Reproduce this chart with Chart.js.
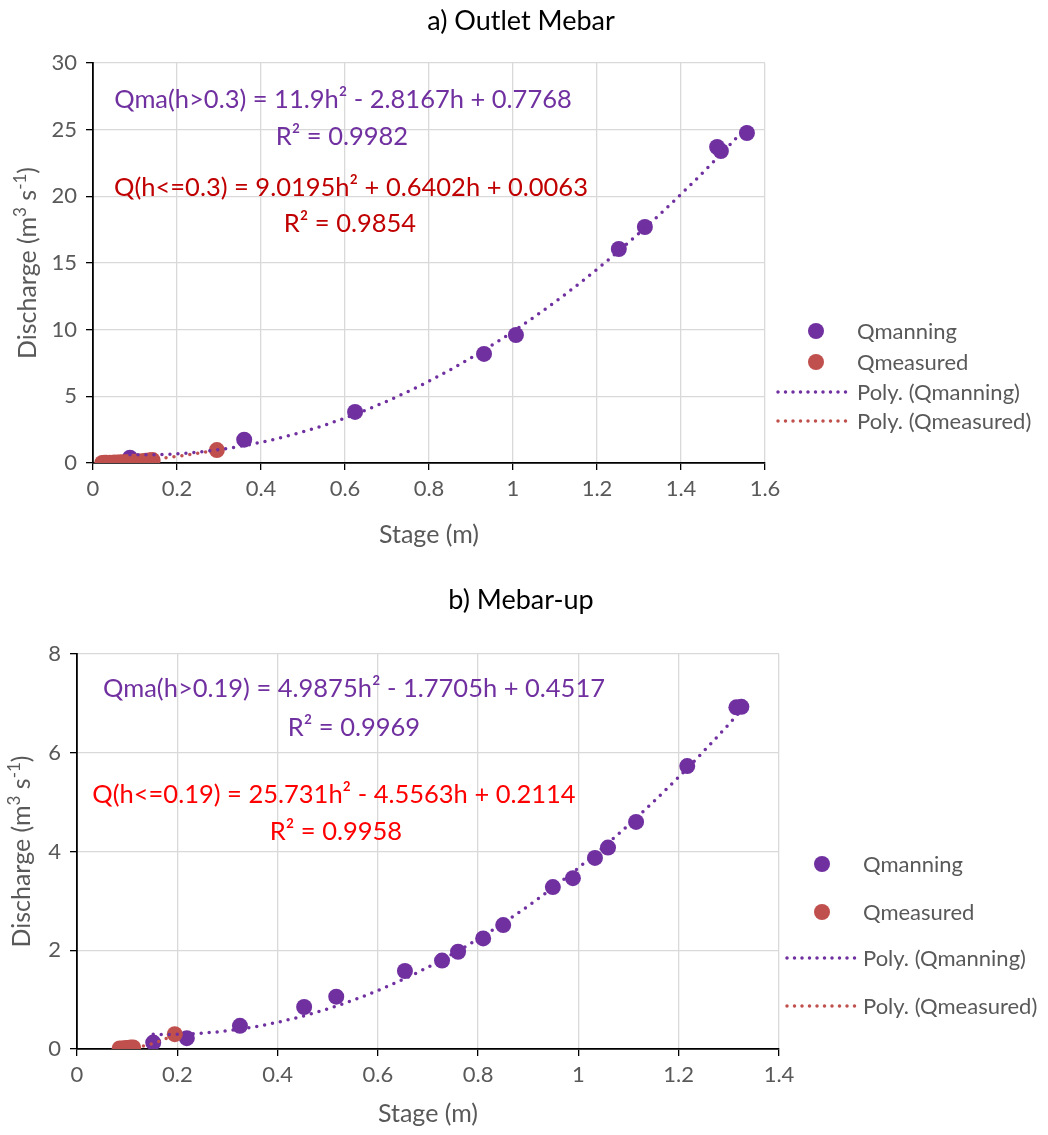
<!DOCTYPE html>
<html>
<head>
<meta charset="utf-8">
<script src="https://cdn.jsdelivr.net/npm/chart.js@4.4.1/dist/chart.umd.min.js"></script>
<style>
  body { margin: 0; background: #fff; }
  .wrap { position: absolute; left: 0; width: 1048px; }
  #wrapA { top: 0; height: 560px; }
  #wrapB { top: 570px; height: 565px; }
</style>
</head>
<body>
<div class="wrap" id="wrapA"><canvas id="chartA" width="1048" height="560"></canvas></div>
<div class="wrap" id="wrapB"><canvas id="chartB" width="1048" height="565"></canvas></div>
<script>
// a) Outlet Mebar
const stageManningA = [0.088, 0.36, 0.624, 0.931, 1.007, 1.252, 1.314, 1.486, 1.495, 1.557];
const dischargeManningA = [0.4, 1.75, 3.83, 8.18, 9.6, 16.05, 17.7, 23.7, 23.4, 24.75];
const stageMeasuredA = [0.022, 0.027, 0.032, 0.04, 0.05, 0.058, 0.066, 0.075, 0.085, 0.095, 0.105, 0.115, 0.125, 0.135, 0.142, 0.295];
const dischargeMeasuredA = [0.0, 0.01, 0.02, 0.02, 0.03, 0.04, 0.05, 0.06, 0.08, 0.1, 0.12, 0.14, 0.16, 0.2, 0.22, 0.97];
const polyManningA = [0.7768, -2.8167, 11.9];      // c0, c1, c2
const polyMeasuredA = [0.0063, 0.6402, 9.0195];

// b) Mebar-up
const stageManningB = [0.152, 0.219, 0.325, 0.453, 0.517, 0.654, 0.728, 0.76, 0.81, 0.85, 0.949, 0.989, 1.033, 1.059, 1.115, 1.217, 1.315, 1.325];
const dischargeManningB = [0.13, 0.22, 0.47, 0.85, 1.06, 1.58, 1.79, 1.97, 2.24, 2.51, 3.28, 3.46, 3.87, 4.08, 4.6, 5.73, 6.92, 6.93];
const stageMeasuredB = [0.085, 0.09, 0.097, 0.102, 0.107, 0.112, 0.195];
const dischargeMeasuredB = [0.01, 0.01, 0.02, 0.02, 0.03, 0.03, 0.3];
const polyManningB = [0.4517, -1.7705, 4.9875];
const polyMeasuredB = [0.2114, -4.5563, 25.731];

const seriesNames = ['Qmanning', 'Qmeasured', 'Poly. (Qmanning)', 'Poly. (Qmeasured)'];

const PURPLE = '#7030A0';
const RED = '#C0504D';
const FONT = 'Lato, "Open Sans", sans-serif';
const GREY_TEXT = '#595959';

function pts(xs, ys) {
    return xs.map((x, i) => ({ x: x, y: ys[i] }));
}

// trendline drawn from the fitted equation shown on the chart, over the x range of its series
function trend(coef, xs) {
    const lo = Math.min(...xs), hi = Math.max(...xs);
    const out = [];
    for (let i = 0; i <= 80; i++) {
        const h = lo + (hi - lo) * i / 80;
        out.push({ x: h, y: coef[0] + coef[1] * h + coef[2] * h * h });
    }
    return out;
}

const decor = {
    id: 'decor',
    afterDraw(chart, args, o) {
        const ctx = chart.ctx;
        const area = chart.chartArea;
        ctx.save();
        ctx.textBaseline = 'middle';
        ctx.textAlign = 'center';
        ctx.fillStyle = '#000';
        ctx.font = '27px ' + FONT;
        ctx.fillText(o.title, o.titleX, o.titleY);

        ctx.font = '25.5px ' + FONT;
        o.labels.forEach(l => {
            ctx.fillStyle = l.color;
            ctx.fillText(l.text, l.x, l.y);
        });

        // y axis title with real superscripts
        const parts = [['Discharge (m', 0], ['3', 1], [' s', 0], ['-1', 1], [')', 0]];
        const big = '25px ' + FONT, small = '17px ' + FONT;
        let total = 0;
        parts.forEach(p => { ctx.font = p[1] ? small : big; total += ctx.measureText(p[0]).width; });
        ctx.translate(o.yTitleX, (area.top + area.bottom) / 2);
        ctx.rotate(-Math.PI / 2);
        ctx.textAlign = 'left';
        ctx.fillStyle = GREY_TEXT;
        let cx = -total / 2;
        parts.forEach(p => {
            ctx.font = p[1] ? small : big;
            ctx.fillText(p[0], cx, p[1] ? -7 : 0);
            cx += ctx.measureText(p[0]).width;
        });
        ctx.setTransform(1, 0, 0, 1, 0, 0);

        // legend
        ctx.textAlign = 'left';
        ctx.font = '22px ' + FONT;
        chart.data.datasets.forEach((ds, i) => {
            const y = o.legendY[i];
            if (ds.showLine) {
                ctx.strokeStyle = ds.borderColor;
                ctx.lineWidth = 3.5;
                ctx.lineCap = 'round';
                ctx.setLineDash([0, 7.5]);
                ctx.beginPath();
                ctx.moveTo(o.lineX0, y);
                ctx.lineTo(o.lineX1, y);
                ctx.stroke();
                ctx.setLineDash([]);
            } else {
                ctx.fillStyle = ds.backgroundColor;
                ctx.beginPath();
                ctx.arc(o.markerX, y, 8, 0, Math.PI * 2);
                ctx.fill();
            }
            ctx.fillStyle = GREY_TEXT;
            ctx.fillText(ds.label, o.textX, y + 1);
        });
        ctx.restore();
    }
};

function makeChart(id, cfg) {
    return new Chart(document.getElementById(id).getContext('2d'), {
        type: 'scatter',
        data: {
            datasets: [
                { label: seriesNames[0], data: pts(cfg.sm, cfg.qm), backgroundColor: PURPLE, borderColor: PURPLE, pointRadius: 8, pointBorderWidth: 0, order: 3 },
                { label: seriesNames[1], data: pts(cfg.sr, cfg.qr), backgroundColor: RED, borderColor: RED, pointRadius: 8, pointBorderWidth: 0, order: 2 },
                { label: seriesNames[2], data: trend(cfg.pm, cfg.sm), showLine: true, pointRadius: 0, borderColor: PURPLE, borderWidth: 3.5, borderDash: [0, 8], borderCapStyle: 'round', tension: 0, order: 1 },
                { label: seriesNames[3], data: trend(cfg.pr, cfg.sr), showLine: true, pointRadius: 0, borderColor: RED, borderWidth: 3.5, borderDash: [0, 8], borderCapStyle: 'round', tension: 0, order: 0 }
            ]
        },
        options: {
            responsive: false,
            animation: false,
            layout: { padding: { left: 0, right: cfg.padRight, top: cfg.padTop, bottom: 0 } },
            scales: {
                x: {
                    type: 'linear', min: 0, max: cfg.xMax,
                    afterFit: s => { s.height = cfg.xHeight; },
                    ticks: { stepSize: 0.2, padding: 6, color: GREY_TEXT, font: { family: FONT, size: 22 }, callback: v => +v.toFixed(1) },
                    grid: { color: '#d9d9d9', lineWidth: 1.3, tickColor: '#000', tickLength: 7 },
                    border: { color: '#000', width: 1.8 },
                    title: { display: true, text: 'Stage (m)', color: GREY_TEXT, font: { family: FONT, size: 25 }, padding: { top: 0, bottom: cfg.xTitlePad } }
                },
                y: {
                    type: 'linear', min: 0, max: cfg.yMax,
                    afterFit: s => { s.width = cfg.yWidth; },
                    ticks: { stepSize: cfg.yStep, padding: 9, color: GREY_TEXT, font: { family: FONT, size: 22 } },
                    grid: { color: '#d9d9d9', lineWidth: 1.3, tickColor: '#000', tickLength: 7 },
                    border: { color: '#000', width: 1.8 },
                    title: { display: false }
                }
            },
            plugins: {
                legend: { display: false },
                tooltip: { enabled: false },
                decor: cfg.decor
            }
        },
        plugins: [decor]
    });
}

makeChart('chartA', {
    sm: stageManningA, qm: dischargeManningA, sr: stageMeasuredA, qr: dischargeMeasuredA,
    pm: polyManningA, pr: polyMeasuredA,
    xMax: 1.6, yMax: 30, yStep: 5,
    padRight: 283, padTop: 63, xHeight: 97, yWidth: 93, xTitlePad: 10,
    decor: {
        title: 'a) Outlet Mebar', titleX: 521, titleY: 21, yTitleX: 28,
        labels: [
            { text: 'Qma(h>0.3) = 11.9h² - 2.8167h + 0.7768', color: PURPLE, x: 343, y: 100 },
            { text: 'R² = 0.9982', color: PURPLE, x: 342, y: 137 },
            { text: 'Q(h<=0.3) = 9.0195h² + 0.6402h + 0.0063', color: '#C00000', x: 351, y: 188 },
            { text: 'R² = 0.9854', color: '#C00000', x: 350, y: 224 }
        ],
        legendY: [331, 362, 392, 421], markerX: 816, lineX0: 778, lineX1: 848, textX: 857
    }
});

makeChart('chartB', {
    sm: stageManningB, qm: dischargeManningB, sr: stageMeasuredB, qr: dischargeMeasuredB,
    pm: polyManningB, pr: polyMeasuredB,
    xMax: 1.4, yMax: 8, yStep: 2,
    padRight: 269, padTop: 84, xHeight: 86, yWidth: 77, xTitlePad: 6,
    decor: {
        title: 'b) Mebar-up', titleX: 521, titleY: 30, yTitleX: 22,
        labels: [
            { text: 'Qma(h>0.19) = 4.9875h² - 1.7705h + 0.4517', color: PURPLE, x: 354, y: 119 },
            { text: 'R² = 0.9969', color: PURPLE, x: 354, y: 158 },
            { text: 'Q(h<=0.19) = 25.731h² - 4.5563h + 0.2114', color: '#FF0000', x: 334, y: 225 },
            { text: 'R² = 0.9958', color: '#FF0000', x: 336, y: 262 }
        ],
        legendY: [294, 342, 388, 436], markerX: 822, lineX0: 787, lineX1: 855, textX: 863
    }
});
</script>
</body>
</html>
